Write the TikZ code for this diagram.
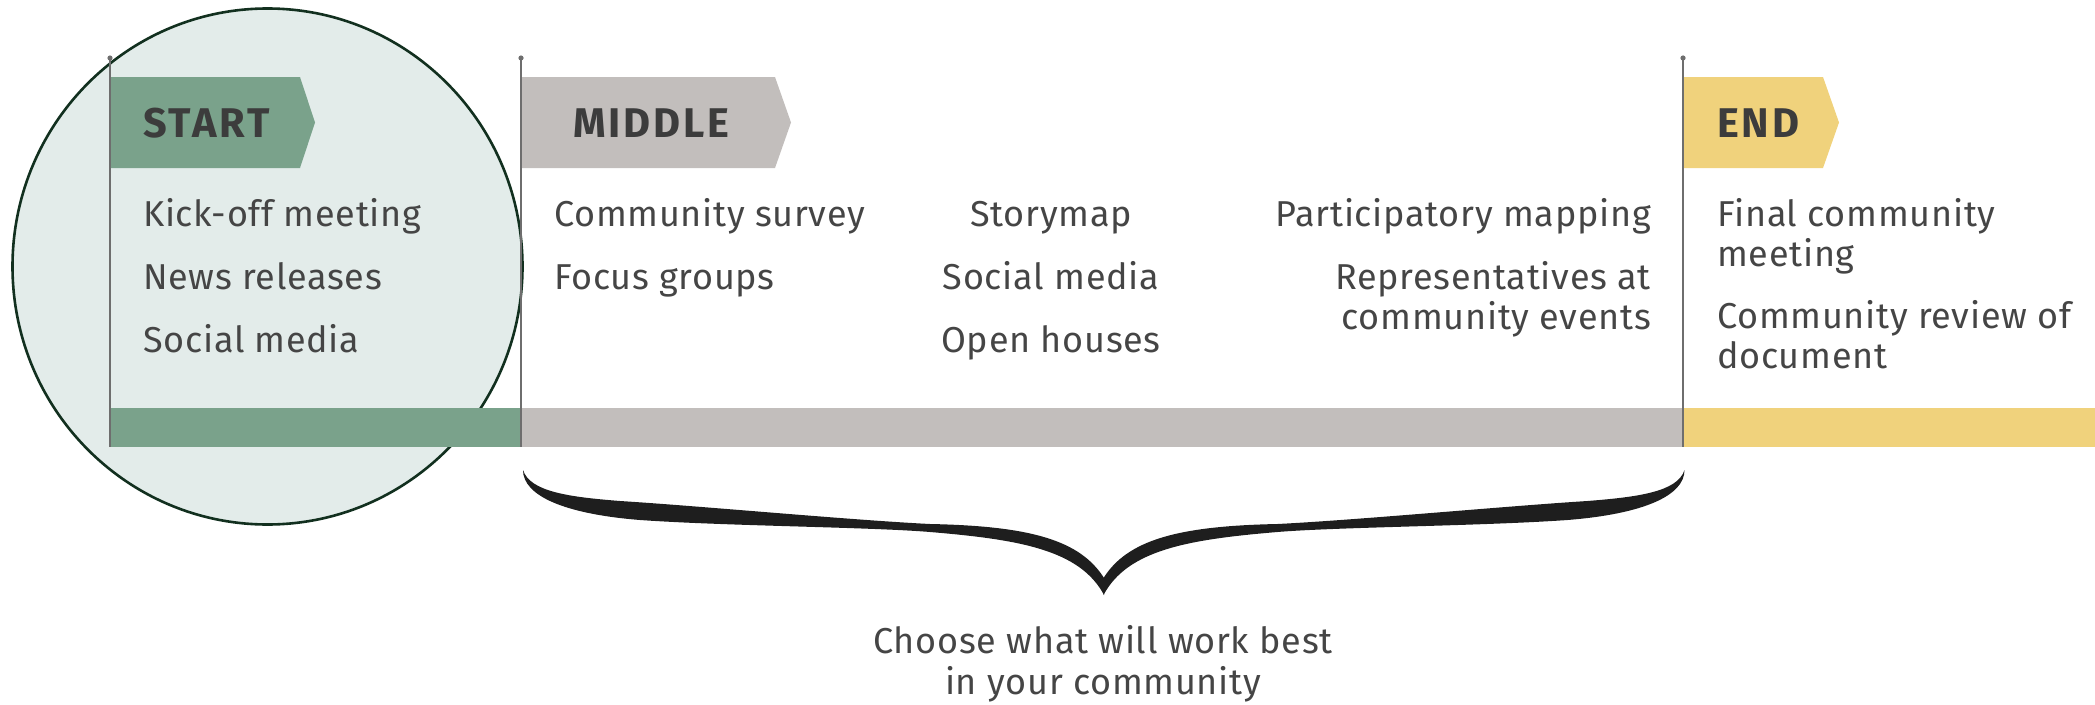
\documentclass[tikz,border=0pt]{standalone}
\usepackage{fontspec}
\setmainfont{Fira Sans}[LetterSpace=2]
\newfontfamily\headfont{Fira Sans}[LetterSpace=7]
\definecolor{startgreen}{HTML}{7AA28B}
\definecolor{midgrey}{HTML}{C2BEBC}
\definecolor{endyellow}{HTML}{F0D27C}
\definecolor{ringfill}{HTML}{E3ECEA}
\definecolor{ringline}{HTML}{12301F}
\definecolor{txt}{HTML}{454545}
\definecolor{headtxt}{HTML}{3C3C3C}
\definecolor{polecol}{HTML}{6E6E6E}
\definecolor{bracecol}{HTML}{1E1E1E}
\begin{document}
\begin{tikzpicture}[x=1pt,y=-1pt,
  item/.style={inner sep=0pt, text=txt, font=\fontsize{36}{40}\selectfont},
  head/.style={inner sep=0pt, text=headtxt, font=\headfont\bfseries\fontsize{41.5}{40}\selectfont},
  pole/.style={draw=polecol, line width=1.6pt},
  knob/.style={fill=polecol}]
\useasboundingbox (0,0) rectangle (2095,704);

% highlight around the first phase
\draw[fill=ringfill, draw=ringline, line width=2.6pt] (267.5,266.5) ellipse [x radius=255, y radius=258];

% timeline bar
\fill[startgreen] (110,408) rectangle (521,447);
\fill[midgrey] (521,408) rectangle (1683,447);
\fill[endyellow] (1683,408) rectangle (2095,447);

% phase tabs
\fill[startgreen] (110,77) -- (300,77) -- (315,122.5) -- (300,168) -- (110,168) -- cycle;
\fill[midgrey] (521,77) -- (775,77) -- (791,122.5) -- (775,168) -- (521,168) -- cycle;
\fill[endyellow] (1683,77) -- (1823,77) -- (1839,122.5) -- (1823,168) -- (1683,168) -- cycle;

% flag poles
\coordinate (p1top) at (110,58);  \coordinate (p1bot) at (110,447);
\coordinate (p2top) at (521,58);  \coordinate (p2bot) at (521,447);
\coordinate (p3top) at (1683,58); \coordinate (p3bot) at (1683,447);
\draw[pole] (p1top) -- (p1bot);
\draw[pole] (p2top) -- (p2bot);
\draw[pole] (p3top) -- (p3bot);
\fill[knob] (p1top) circle (2.6);
\fill[knob] (p2top) circle (2.6);
\fill[knob] (p3top) circle (2.6);

% headings
\node[head, anchor=base west] (hstart) at (143,137) {START};
\node[head, anchor=base west] (hmid) at (573,137) {MIDDLE};
\node[head, anchor=base west] (hend) at (1717,137) {END};

% start activities
\node[item, anchor=base west] (s1) at (143,226) {Kick-off meeting};
\node[item, anchor=base west] (s2) at (143,289) {News releases};
\node[item, anchor=base west] (s3) at (143,352) {Social media};

% middle activities
\node[item, anchor=base west] (m1) at (554,226) {Community survey};
\node[item, anchor=base west] (m2) at (554,289) {Focus groups};
\node[item, anchor=base] (m3) at (1051,226) {Storymap};
\node[item, anchor=base] (m4) at (1051,289) {Social media};
\node[item, anchor=base] (m5) at (1051,352) {Open houses};
\node[item, anchor=base east] (m6) at (1651,226) {Participatory mapping};
\node[item, anchor=base east] (m7) at (1651,289) {Representatives at};
\node[item, anchor=base east] (m8) at (1651,329) {community events};

% end activities
\node[item, anchor=base west] (e1) at (1717,226) {Final community};
\node[item, anchor=base west] (e2) at (1717,266) {meeting};
\node[item, anchor=base west] (e3) at (1717,328) {Community review of};
\node[item, anchor=base west] (e4) at (1717,368) {document};

% brace under the middle phase
\def\bracehalf{%
  (523,470) .. controls (523,496) and (565,514) .. (640,520)
  .. controls (725,526) and (870,527) .. (930,532)
  .. controls (1020,539.5) and (1080,550) .. (1104,595)
  -- (1104,578)
  .. controls (1080,540) and (1030,526) .. (930,524)
  .. controls (850,520) and (700,506) .. (620,501)
  .. controls (570,497) and (530,492) .. (523,470) -- cycle}
\fill[bracecol] \bracehalf;
\begin{scope}[shift={(2207.5,0)}, xscale=-1]
  \fill[bracecol] \bracehalf;
\end{scope}

% note below the brace
\node[item, anchor=base] (n1) at (1103,653) {Choose what will work best};
\node[item, anchor=base] (n2) at (1103,694) {in your community};
\end{tikzpicture}
\end{document}
